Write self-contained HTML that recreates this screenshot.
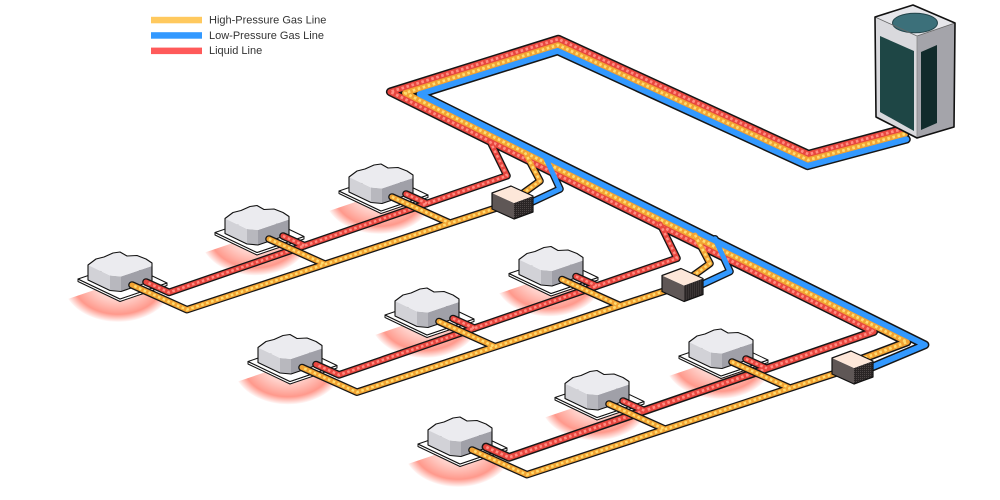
<!DOCTYPE html>
<html><head><meta charset="utf-8"><style>
html,body{margin:0;padding:0;background:#fff;}
svg{display:block;}
text{font-family:"Liberation Sans",sans-serif;font-size:11px;fill:#333;}
</style></head><body>
<svg width="1000" height="500" viewBox="0 0 1000 500" xmlns="http://www.w3.org/2000/svg">
<defs>
<radialGradient id="gl" gradientUnits="userSpaceOnUse" cx="118" cy="282" r="56" gradientTransform="translate(118 282) scale(1 0.72) translate(-118 -282)">
<stop offset="0" stop-color="#ff6a55" stop-opacity="0.08"/>
<stop offset="0.45" stop-color="#ff6a55" stop-opacity="0.32"/>
<stop offset="0.8" stop-color="#ff5a45" stop-opacity="0.62"/>
<stop offset="1" stop-color="#ff5a45" stop-opacity="0"/>
</radialGradient>
<pattern id="dots" width="2" height="2" patternUnits="userSpaceOnUse"><rect width="2" height="2" fill="#2a2525"/><rect width="1" height="1" fill="#4d4646"/></pattern>
<g id="un">
<path d="M118,282 L167.8,298.9 A55,40 0 0,1 68.2,298.9 Z" fill="url(#gl)"/>
<polygon points="78,279 120,299 167,283 167,285.5 120,301.5 78,281.5" fill="#fff" stroke="#111" stroke-width="1" stroke-linejoin="round"/>
<polygon points="78,279 125,263 167,283 120,299" fill="#fff" stroke="#111" stroke-width="1" stroke-linejoin="round"/>
<polygon points="88,265 110,275.5 110,290.5 88,280" fill="#d2d2d7"/>
<polygon points="110,275.5 121,276.5 121,291.5 110,290.5" fill="#b8b8be"/>
<polygon points="121,276.5 152,266 152,281 121,291.5" fill="#a0a0a8"/>
<polygon points="88,265 96,259 104,257 113,253 120,252 127,256 137,255.5 146,259 152,263 152,266 121,276.5 110,275.5" fill="#ebebef"/>
<polygon points="88,265 96,259 104,257 113,253 120,252 127,256 137,255.5 146,259 152,263 152,281 121,291.5 110,290.5 88,280" fill="none" stroke="#111" stroke-width="1.1" stroke-linejoin="round"/>
</g>
<g id="bx">
<polygon points="492,193 514,203 514,219 492,209" fill="#5f5756"/>
<polygon points="514,203 533,196 533,212 514,219" fill="url(#dots)"/>
<polygon points="492,193 511,186 533,196 514,203" fill="#fde7d9"/>
<polygon points="492,193 511,186 533,196 533,212 514,219 492,209" fill="none" stroke="#111" stroke-width="1.2" stroke-linejoin="round"/>
</g>
<path id="tr" d="M903.6,128.7 L808.5,154.2 L558.4,39.1 L390.3,91.85 L873.7,331.6 L509.1,457.4 L486,447"/>
<path id="ty" d="M905,134 L808,160 L558,45 L405,93 L907,342 L862,359"/>
<path id="tb" d="M906.4,139.3 L807.5,165.8 L557.6,50.9 L419.7,94.15 L925,344.8 L870,368"/>
<path id="br" d="M490,141.2 L507,175.8 L169.1,292.4 L146,282"/>
<path id="by" d="M525,152.5 L540,181 L522,194"/>
<path id="bb" d="M545,156.3 L560,189 L530,203"/>
<path id="rs" d="M283,236 L304.5,245.7 M406,194 L426.9,203.4"/>
<path id="yr" d="M505,205.1 L186.9,309.7 L132,285 M269,239 L325.1,264.2 M392,197 L450,223.1"/>
</defs>

<use href="#un" transform="translate(261,-88)"/>
<use href="#un" transform="translate(137,-46.5)"/>
<use href="#un"/>
<use href="#un" transform="translate(431,-5.5)"/>
<use href="#un" transform="translate(307,36)"/>
<use href="#un" transform="translate(170,82.5)"/>
<use href="#un" transform="translate(601,77)"/>
<use href="#un" transform="translate(477,118.5)"/>
<use href="#un" transform="translate(340,165)"/>

<g fill="none" stroke-linecap="round" stroke-linejoin="round">
<g stroke="#161616">
<g stroke-width="8.8"><use href="#tr"/><use href="#ty"/><use href="#tb"/></g>
<g stroke-width="7.6">
<use href="#br"/><use href="#br" transform="translate(170,82.5)"/>
<use href="#by"/><use href="#by" transform="translate(170,82.5)"/>
<use href="#bb"/><use href="#bb" transform="translate(170,82.5)"/>
<use href="#rs"/><use href="#rs" transform="translate(170,82.5)"/><use href="#rs" transform="translate(340,165)"/>
</g>
</g>
<g stroke-width="5.8">
<use href="#tr" stroke="#e8463f"/><use href="#ty" stroke="#f2a333"/><use href="#tb" stroke="#3399ff"/>
</g>
<g stroke-width="2.8" stroke-dasharray="2.6 2.6" stroke-linecap="butt">
<use href="#tr" stroke="#ff8d82"/><use href="#ty" stroke="#ffdc70"/>
</g>
<g stroke-width="5" stroke="#e8463f">
<use href="#br"/><use href="#br" transform="translate(170,82.5)"/>
<use href="#rs"/><use href="#rs" transform="translate(170,82.5)"/><use href="#rs" transform="translate(340,165)"/>
</g>
<g stroke-width="2.5" stroke="#ff8d82" stroke-dasharray="2.6 2.6" stroke-linecap="butt">
<use href="#br"/><use href="#br" transform="translate(170,82.5)"/>
<use href="#rs"/><use href="#rs" transform="translate(170,82.5)"/><use href="#rs" transform="translate(340,165)"/>
</g>
<g stroke-width="5" stroke="#f2a333">
<use href="#by"/><use href="#by" transform="translate(170,82.5)"/>
</g>
<g stroke-width="2.5" stroke="#ffdc70" stroke-dasharray="2.6 2.6" stroke-linecap="butt">
<use href="#by"/><use href="#by" transform="translate(170,82.5)"/>
</g>
<g stroke-width="5" stroke="#3399ff">
<use href="#bb"/><use href="#bb" transform="translate(170,82.5)"/>
</g>
<g stroke="#161616" stroke-width="7.6">
<use href="#yr"/><use href="#yr" transform="translate(170,82.5)"/><use href="#yr" transform="translate(340,165)"/>
</g>
<g stroke="#f2a333" stroke-width="5">
<use href="#yr"/><use href="#yr" transform="translate(170,82.5)"/><use href="#yr" transform="translate(340,165)"/>
</g>
<g stroke="#ffdc70" stroke-width="2.5" stroke-dasharray="2.6 2.6" stroke-linecap="butt">
<use href="#yr"/><use href="#yr" transform="translate(170,82.5)"/><use href="#yr" transform="translate(340,165)"/>
</g>
</g>

<use href="#bx"/>
<use href="#bx" transform="translate(170,82.5)"/>
<use href="#bx" transform="translate(340,165)"/>

<g stroke-linejoin="round">
<polygon points="875,17 917,36 917,138 876,117" fill="#d9d9dd"/>
<polygon points="880,36 914,51 914,131 880,112" fill="#1e4645"/>
<polygon points="917,36 955,23 954,127 917,138" fill="#a4a4aa"/>
<polygon points="921,52 937,45 937,123 921,130" fill="#112b2b"/>
<polygon points="875,17 913,5 955,23 917,36" fill="#e6e6ea"/>
<ellipse cx="915" cy="23" rx="22.5" ry="9.8" fill="#3c707a" stroke="#22444a" stroke-width="1"/>
<polyline points="875,17 917,36 955,23" fill="none" stroke="#666" stroke-width="0.8"/>
<line x1="917" y1="36" x2="917" y2="138" stroke="#888" stroke-width="0.8"/>
<polygon points="875,17 913,5 955,23 954,127 917,138 876,117" fill="none" stroke="#111" stroke-width="1.6"/>
</g>

<rect x="151" y="16.8" width="51" height="6.5" fill="#ffc95e"/>
<rect x="151" y="32.2" width="51" height="6.5" fill="#3399ff"/>
<rect x="151" y="47.6" width="51" height="6.5" fill="#ff5a5a"/>
<text x="209" y="23.6">High-Pressure Gas Line</text>
<text x="209" y="38.8">Low-Pressure Gas Line</text>
<text x="209" y="54.2">Liquid Line</text>
</svg>
</body></html>
